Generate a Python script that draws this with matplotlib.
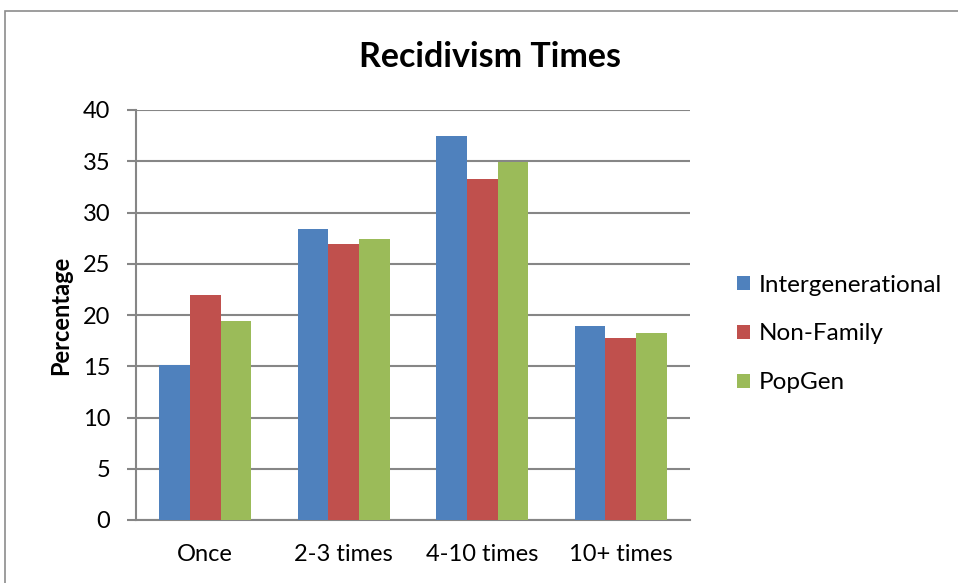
import numpy as np
import matplotlib
matplotlib.use("Agg")
import matplotlib.pyplot as plt
from matplotlib.patches import Rectangle

plt.rcParams['font.family'] = ['Lato', 'DejaVu Sans']

categories = ['Once', '2-3 times', '4-10 times', '10+ times']
intergenerational = [15.1, 28.35, 37.5, 18.95]
non_family = [22.0, 26.9, 33.3, 17.8]
popgen = [19.45, 27.4, 34.9, 18.2]

series = [
    ('Intergenerational', intergenerational, '#4f81bd'),
    ('Non-Family', non_family, '#c0504d'),
    ('PopGen', popgen, '#9bbb59'),
]

fig = plt.figure(figsize=(9.58, 5.83), dpi=100)

# frame around the chart area
fig.patches.append(Rectangle((5 / 958, -0.05), 1.1, 1 - 11 / 583 + 0.05,
                             transform=fig.transFigure, fill=False,
                             edgecolor='#8c8c8c', linewidth=1.2))

ax = fig.add_axes([136 / 958, 1 - 520 / 583, (690 - 136) / 958, 410 / 583])

x = np.arange(len(categories))
w = 0.2215
for i, (name, vals, col) in enumerate(series):
    ax.bar(x + (i - 1) * w, vals, width=w, color=col, label=name,
           edgecolor='none', zorder=3)

ax.set_xlim(-0.5, len(categories) - 0.5)
ax.set_ylim(0, 40)
ax.set_yticks(range(0, 41, 5))
ax.set_xticks(x)
ax.set_xticklabels(categories, fontsize=17)
ax.tick_params(axis='x', length=0, pad=17)
ax.tick_params(axis='y', length=6.5, width=1.5, color='#868686', labelsize=17, pad=12)

ax.grid(axis='y', color='#868686', linewidth=1.5, zorder=0)
for s in ['top', 'right']:
    ax.spines[s].set_visible(False)
for s in ['left', 'bottom']:
    ax.spines[s].set_color('#868686')
    ax.spines[s].set_linewidth(1.5)

ax.set_ylabel('Percentage', fontsize=17, fontweight='bold')
ax.yaxis.set_label_coords(-0.115, 0.5)
fig.text(490 / 958, 1 - 57 / 583, 'Recidivism Times', fontsize=24.5,
         fontweight='bold', ha='center', va='center')

ax.legend(loc='center left', bbox_to_anchor=(1.085, 0.4537), frameon=False,
          fontsize=17.5, handlelength=0.55, handleheight=0.55,
          handletextpad=0.35, labelspacing=1.15, borderpad=0,
          borderaxespad=0)

fig.savefig('out.png', dpi=100)
